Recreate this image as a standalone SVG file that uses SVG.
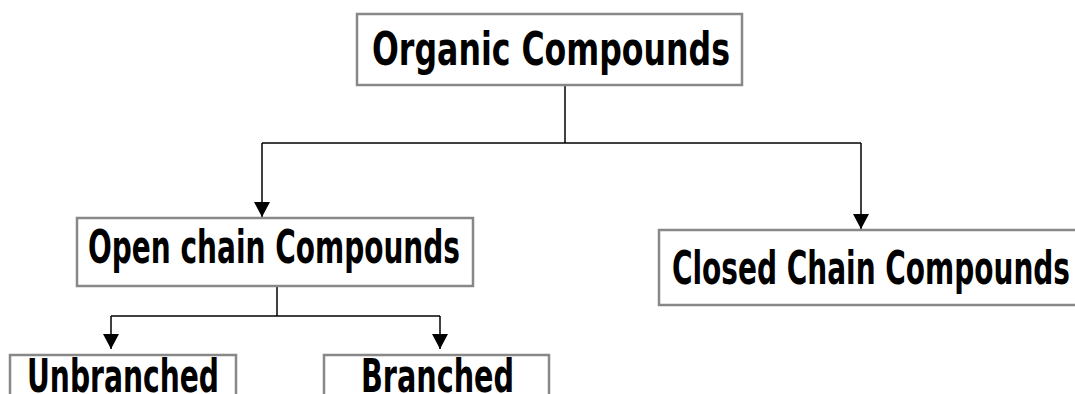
<svg xmlns="http://www.w3.org/2000/svg" width="1075" height="394" viewBox="0 0 1075 394">
<style>
.box{fill:#fff;stroke:#888;stroke-width:2.5}
.lbl{font-family:"DejaVu Sans Condensed","Liberation Sans",sans-serif;font-weight:bold;font-size:47px;fill:#000}
.ln{stroke:#000;stroke-width:1.5;fill:none}
</style>
<defs>
<marker id="ah" viewBox="0 0 15 16" refX="15" refY="8" markerWidth="15" markerHeight="16" markerUnits="userSpaceOnUse" orient="auto">
<path d="M0,0 L15,8 L0,16 Z" fill="#000"/>
</marker>
</defs>
<rect width="1075" height="394" fill="#fff"/>
<g id="connectors">
<path class="ln" d="M565,85 V143"/>
<path class="ln" d="M262,143 H861"/>
<path class="ln" d="M262,143 V217" marker-end="url(#ah)"/>
<path class="ln" d="M861,143 V229" marker-end="url(#ah)"/>
<path class="ln" d="M277,286 V316"/>
<path class="ln" d="M111,316 H440"/>
<path class="ln" d="M111,316 V349" marker-end="url(#ah)"/>
<path class="ln" d="M440,316 V349" marker-end="url(#ah)"/>
</g>
<g id="organic">
<rect class="box" x="357" y="14" width="385" height="71"/>
<text class="lbl" x="372" y="65" textLength="358" lengthAdjust="spacingAndGlyphs">Organic Compounds</text>
</g>
<g id="open">
<rect class="box" x="77" y="218" width="396" height="68"/>
<text class="lbl" x="88" y="263" textLength="372" lengthAdjust="spacingAndGlyphs">Open chain Compounds</text>
</g>
<g id="closed">
<rect class="box" x="659" y="230" width="425" height="75"/>
<text class="lbl" x="672" y="284" textLength="398" lengthAdjust="spacingAndGlyphs">Closed Chain Compounds</text>
</g>
<g id="unbranched">
<rect class="box" x="10" y="355" width="226" height="60"/>
<text class="lbl" x="27" y="392" textLength="192" lengthAdjust="spacingAndGlyphs">Unbranched</text>
</g>
<g id="branched">
<rect class="box" x="324" y="355" width="225" height="60"/>
<text class="lbl" x="361" y="392" textLength="153" lengthAdjust="spacingAndGlyphs">Branched</text>
</g>
</svg>
